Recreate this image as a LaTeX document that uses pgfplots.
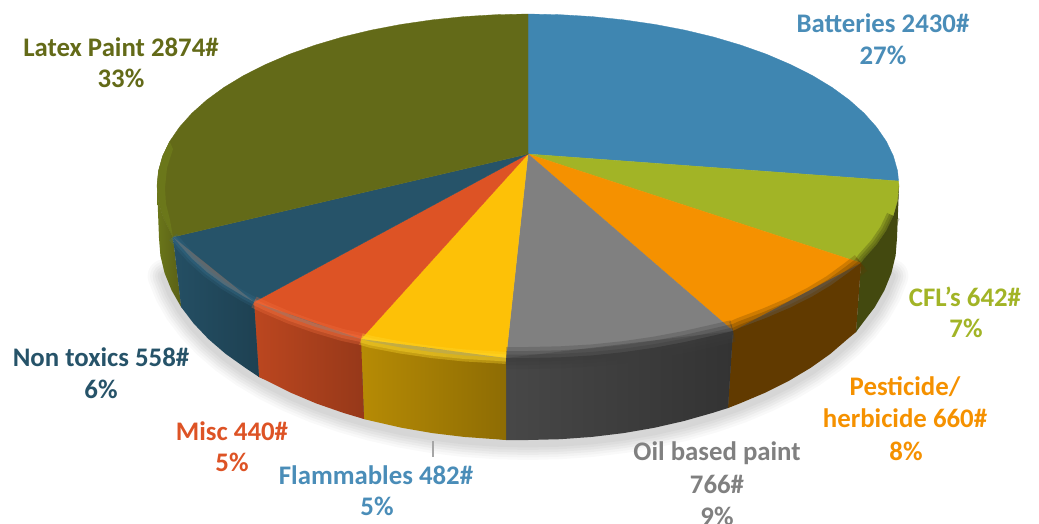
\documentclass[border=0pt]{standalone}
\usepackage{pgfplots}
\usepackage{pgfplotstable}
\usepackage{fontspec}
\setmainfont{Carlito}
\pgfplotsset{compat=1.18}

\definecolor{batt}{HTML}{3F86B1}
\definecolor{battlab}{HTML}{4A8DB8}
\definecolor{cfl}{HTML}{A2B426}
\definecolor{cflwall}{HTML}{43490F}
\definecolor{pest}{HTML}{F59100}
\definecolor{pestwall}{HTML}{613A00}
\definecolor{oil}{HTML}{808080}
\definecolor{oilwall}{HTML}{3C3C3C}
\definecolor{flam}{HTML}{FDC107}
\definecolor{flamhi}{HTML}{FFD92E}
\definecolor{misc}{HTML}{DD5325}
\definecolor{mischi}{HTML}{F4703F}
\definecolor{nontox}{HTML}{265369}
\definecolor{nontoxhi}{HTML}{3A7391}
\definecolor{latex}{HTML}{636A18}
\definecolor{latexhi}{HTML}{6B771A}

\tikzset{lab/.style={font=\bfseries\fontsize{26.8}{30}\selectfont, inner sep=0pt}}
\pgfplotsset{soft/.style={no marks, line cap=butt, opacity=#1}}

% outer edge of the bottom face, pixels of the reference
\pgfplotstableread{
x y
891.4 273.1
884.4 290.3
874.8 307.1
862.4 323.4
847.6 339
830.3 353.9
810.7 367.8
788.9 380.8
765.2 392.7
739.6 403.5
712.5 412.9
684 421
654.2 427.8
623.5 433.1
592.1 436.9
560.2 439.2
528 440
495.8 439.2
463.9 436.9
432.5 433.1
401.8 427.8
372 421
343.5 412.9
316.4 403.5
290.8 392.7
267.1 380.8
245.3 367.8
225.7 353.9
208.4 339
193.6 323.4
181.2 307.1
171.6 290.3
164.6 273.1
}\bottomedge

% rim of the top face, one table for each front slice
\pgfplotstableread{
x y
893.4 215.9
886.4 230.5
876.6 244.8
864.2 258.7
861 263
}\rimcfl
\pgfplotstableread{
x y
861 263
849.3 272
831.9 284.7
812.2 296.6
790.3 307.6
766.5 317.8
740.8 327.5
733 331
}\rimpest
\pgfplotstableread{
x y
733 331
713.5 335.5
684.8 342
654.9 347.6
624 352.1
592.4 355.4
560.3 357.3
528 358
506 358
}\rimoil
\pgfplotstableread{
x y
506 358
495.7 357.3
463.6 355.4
432 352.1
401.1 347.6
371.2 341.9
361 339
}\rimflam
\pgfplotstableread{
x y
361 339
342.5 335
315.2 326.9
289.5 317.8
265.7 307.6
254 302
}\rimmisc
\pgfplotstableread{
x y
254 302
243.8 296.6
224.1 284.7
206.7 272
191.8 258.7
179.4 244.8
173 237
}\rimnontox

\begin{document}
\begin{tikzpicture}
\path[use as bounding box] (0,0) rectangle (1039pt,523pt);
\begin{axis}[
    scale only axis,
    width=1039pt,
    height=523pt,
    xmin=0, xmax=1039,
    ymin=0, ymax=523,
    y dir=reverse,
    axis lines=none,
]
% shadow under the pie
\addplot[soft=0.025, draw=black, line cap=round, line width=34pt] table[y expr=\thisrow{y}+3] {\bottomedge};
\addplot[soft=0.025, draw=black, line cap=round, line width=29pt] table[y expr=\thisrow{y}+3] {\bottomedge};
\addplot[soft=0.03, draw=black, line cap=round, line width=24pt] table[y expr=\thisrow{y}+3] {\bottomedge};
\addplot[soft=0.03, draw=black, line cap=round, line width=19pt] table[y expr=\thisrow{y}+3] {\bottomedge};
\addplot[soft=0.03, draw=black, line cap=round, line width=14pt] table[y expr=\thisrow{y}+3] {\bottomedge};
\addplot[soft=0.03, draw=black, line cap=round, line width=9pt] table[y expr=\thisrow{y}+3] {\bottomedge};

% top face
\addplot[fill=batt, draw=batt, line width=0.3pt, no marks] coordinates {
 (528,154) (528,14) (560.3,14.7) (592.4,16.6) (624,19.9) (654.9,24.4) (684.8,30.1)
 (713.5,37) (740.8,45.1) (766.5,54.2) (790.3,64.4) (812.2,75.4) (831.9,87.3)
 (849.3,100) (864.2,113.3) (876.6,127.2) (886.4,141.5) (893.4,156.1) (897.6,171) (898.5,181)
} --cycle;
\addplot[fill=cfl, draw=cfl, line width=0.3pt, no marks] coordinates {
 (528,154) (898.5,181) (899,186) (897.6,201) (893.4,215.9) (886.4,230.5) (876.6,244.8)
 (864.2,258.7) (861,263)
} --cycle;
\addplot[fill=pest, draw=pest, line width=0.3pt, no marks] coordinates {
 (528,154) (861,263) (849.3,272) (831.9,284.7) (812.2,296.6) (790.3,307.6) (766.5,317.8)
 (740.8,327.5) (733,331)
} --cycle;
\addplot[fill=oil, draw=oil, line width=0.3pt, no marks] coordinates {
 (528,154) (733,331) (713.5,335.5) (684.8,342) (654.9,347.6) (624,352.1) (592.4,355.4)
 (560.3,357.3) (528,358) (506,358)
} --cycle;
\addplot[fill=flam, draw=flam, line width=0.3pt, no marks] coordinates {
 (528,154) (506,358) (495.7,357.3) (463.6,355.4) (432,352.1) (401.1,347.6) (371.2,341.9) (361,339)
} --cycle;
\addplot[fill=misc, draw=misc, line width=0.3pt, no marks] coordinates {
 (528,154) (361,339) (342.5,335) (315.2,326.9) (289.5,317.8) (265.7,307.6) (254,302)
} --cycle;
\addplot[fill=nontox, draw=nontox, line width=0.3pt, no marks] coordinates {
 (528,154) (254,302) (243.8,296.6) (224.1,284.7) (206.7,272) (191.8,258.7) (179.4,244.8) (173,237)
} --cycle;
\addplot[fill=latex, draw=latex, line width=0.3pt, no marks] coordinates {
 (528,154) (173,237) (169.6,230.5) (162.6,215.9) (158.4,201) (157,186) (158.4,171)
 (162.6,156.1) (169.6,141.5) (179.4,127.2) (191.8,113.3) (206.7,100) (224.1,87.3)
 (243.8,75.4) (265.7,64.4) (289.5,54.2) (315.2,45.1) (342.5,37) (371.2,30.1) (401.1,24.4)
 (432,19.9) (463.6,16.6) (495.7,14.7) (528,14)
} --cycle;

% lighter edge of the back of the Latex Paint slice
\addplot[fill=latexhi, draw=none, no marks] coordinates {
 (173,237) (169.6,230.5) (162.6,215.9) (158.4,201) (157,186) (158.4,171) (162.6,156.1)
 (169.6,141.5) (173,149) (167,168) (165,188) (166,204) (170,220)
} --cycle;

% side wall, with a dark layer under it so that no hairline shows between the slices
\addplot[fill=black!60, draw=none, no marks] coordinates {
 (861,263) (733,331) (506,358) (361,339) (254,302) (173,237) (181.2,307.1) (259,377) (364,419)
 (506,440) (728,408) (856,332)
} --cycle;
\addplot[left color=latexhi, right color=latex!90!black, draw=none, no marks] coordinates {
 (173,237) (169.6,230.5) (162.6,215.9) (158.4,201) (157,186) (159,238) (160.4,255.6)
 (164.6,273.1) (171.6,290.3) (181.2,307.1)
} --cycle;
\addplot[fill=cflwall, draw=none, no marks] coordinates {
 (899,186) (897.6,201) (893.4,215.9) (886.4,230.5) (876.6,244.8) (864.2,258.7) (861,263)
 (856,332) (862.4,323.4) (874.8,307.1) (884.4,290.3) (891.4,273.1) (895.6,255.6) (897,238)
} --cycle;
\addplot[fill=pestwall, draw=none, no marks] coordinates {
 (861,263) (849.3,272) (831.9,284.7) (812.2,296.6) (790.3,307.6) (766.5,317.8) (740.8,327.5)
 (733,331) (728,408) (739.6,403.5) (765.2,392.7) (788.9,380.8) (810.7,367.8) (830.3,353.9)
 (847.6,339) (856,332)
} --cycle;
\addplot[left color=black!72, right color=black!80, draw=none, no marks] coordinates {
 (733,331) (713.5,335.5) (684.8,342) (654.9,347.6) (624,352.1) (592.4,355.4) (560.3,357.3)
 (528,358) (506,358) (506,440) (528,440) (560.2,439.2) (592.1,436.9) (623.5,433.1)
 (654.2,427.8) (684,421) (712.5,412.9) (728,408)
} --cycle;
\addplot[left color=flam!72!black, right color=flam!56!black, draw=none, no marks] coordinates {
 (506,358) (495.7,357.3) (463.6,355.4) (432,352.1) (401.1,347.6) (371.2,341.9) (361,339)
 (364,419) (372,421) (401.8,427.8) (432.5,433.1) (463.9,436.9) (495.8,439.2) (506,440)
} --cycle;
\addplot[left color=misc!85!black, right color=misc!68!black, draw=none, no marks] coordinates {
 (361,339) (342.5,335) (315.2,326.9) (289.5,317.8) (265.7,307.6) (254,302)
 (259,377) (267.1,380.8) (290.8,392.7) (316.4,403.5) (343.5,412.9) (364,419)
} --cycle;
\addplot[left color=nontox!95!black, right color=nontox!78!black, draw=none, no marks] coordinates {
 (254,302) (243.8,296.6) (224.1,284.7) (206.7,272) (191.8,258.7) (179.4,244.8) (173,237)
 (181.2,307.1) (193.6,323.4) (208.4,339) (225.7,353.9) (245.3,367.8) (259,377)
} --cycle;

% soft bevel along the rim
\addplot[soft=0.3, draw=cflwall, line width=14pt] table {\rimcfl};
\addplot[soft=0.3, draw=cflwall, line width=9pt] table {\rimcfl};
\addplot[soft=0.3, draw=cflwall, line width=4pt] table {\rimcfl};
\addplot[soft=0.25, draw=pestwall, line width=20pt] table {\rimpest};
\addplot[soft=0.3, draw=pestwall, line width=13pt] table {\rimpest};
\addplot[soft=0.35, draw=pestwall, line width=6pt] table {\rimpest};
\addplot[soft=0.25, draw=oilwall, line width=22pt] table {\rimoil};
\addplot[soft=0.3, draw=oilwall, line width=14pt] table {\rimoil};
\addplot[soft=0.35, draw=oilwall, line width=7pt] table {\rimoil};
\addplot[soft=0.35, draw=flamhi, line width=12pt] table {\rimflam};
\addplot[soft=0.4, draw=flamhi, line width=7pt] table {\rimflam};
\addplot[soft=0.3, draw=mischi, line width=12pt] table {\rimmisc};
\addplot[soft=0.4, draw=mischi, line width=6pt] table {\rimmisc};
\addplot[soft=0.2, draw=nontoxhi, line width=10pt] table {\rimnontox};
\addplot[soft=0.3, draw=nontoxhi, line width=5pt] table {\rimnontox};

% leader line of Flammables
\addplot[draw=black!35, line width=1.4pt, no marks] coordinates {(433,441) (433,457)};

% labels
\node[lab, text=latex] at (axis cs:121,47) {Latex Paint 2874\#};
\node[lab, text=latex] at (axis cs:121,78) {33\%};
\node[lab, text=battlab] at (axis cs:883,23) {Batteries 2430\#};
\node[lab, text=battlab] at (axis cs:883,55) {27\%};
\node[lab, text=cfl] at (axis cs:965,297) {CFL's 642\#};
\node[lab, text=cfl] at (axis cs:966,328) {7\%};
\node[lab, text=pest] at (axis cs:905,387) {Pesticide/};
\node[lab, text=pest] at (axis cs:905,418) {herbicide 660\#};
\node[lab, text=pest] at (axis cs:906,451) {8\%};
\node[lab, text=oil] at (axis cs:717,453) {Oil based paint};
\node[lab, text=oil] at (axis cs:717,484) {766\#};
\node[lab, text=oil] at (axis cs:717,516) {9\%};
\node[lab, text=battlab] at (axis cs:376,475) {Flammables 482\#};
\node[lab, text=battlab] at (axis cs:377,506) {5\%};
\node[lab, text=misc] at (axis cs:232,431) {Misc 440\#};
\node[lab, text=misc] at (axis cs:232,462) {5\%};
\node[lab, text=nontox] at (axis cs:101,357) {Non toxics 558\#};
\node[lab, text=nontox] at (axis cs:101,389) {6\%};
\end{axis}
\end{tikzpicture}
\end{document}
